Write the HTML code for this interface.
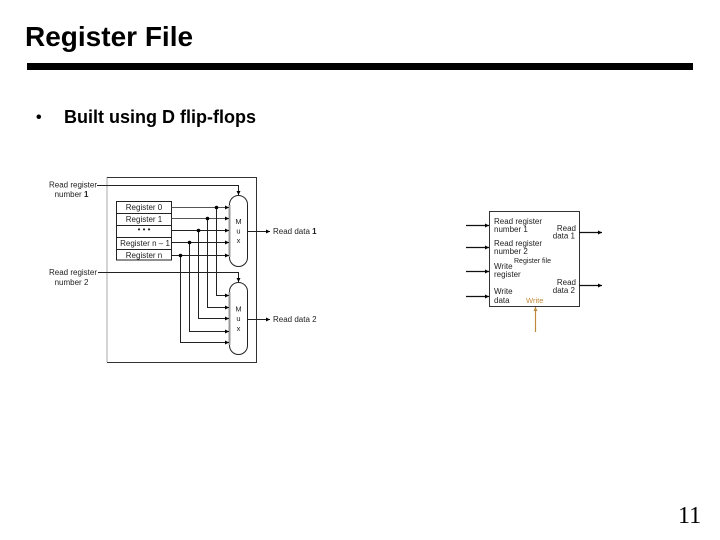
<!DOCTYPE html>
<html>
<head>
<meta charset="utf-8">
<style>
html,body{margin:0;padding:0;background:#fff;}
svg{display:block;}
text{font-family:"Liberation Sans",sans-serif;fill:#222;}
</style>
</head>
<body>
<svg width="720" height="540" viewBox="0 0 720 540" xmlns="http://www.w3.org/2000/svg">
<defs>
<marker id="a" markerUnits="userSpaceOnUse" markerWidth="5" markerHeight="5" refX="4" refY="2" orient="auto"><path d="M0,0 L4,2 L0,4 Z" fill="#000"/></marker>
<marker id="o" markerUnits="userSpaceOnUse" markerWidth="5" markerHeight="5" refX="4" refY="2" orient="auto"><path d="M0,0 L4,2 L0,4 Z" fill="#c08a3c"/></marker>
</defs>
<text x="25" y="46" font-size="28" font-weight="bold" style="fill:#000">Register File</text>
<rect x="27" y="63" width="666" height="7" fill="#000"/>
<text x="36" y="122" font-size="16" font-weight="bold" style="fill:#000">•</text>
<text x="64" y="123" font-size="18" font-weight="bold" style="fill:#000">Built using D flip-flops</text>
<text x="678" y="523" font-size="24" style="font-family:'Liberation Serif',serif;fill:#000">11</text>

<!-- outer box -->
<path d="M107,177 V362" stroke="#aaa" stroke-width="1" fill="none"/>
<path d="M107,177.5 H256.5 V362.5 H107" stroke="#333" stroke-width="1" fill="none"/>

<!-- registers -->
<g fill="#fff" stroke="#222" stroke-width="1">
<rect x="116.5" y="201.5" width="55" height="58.5"/>
<path d="M116.5,213.5 H171.5 M116.5,225.5 H171.5 M116.5,237.5 H171.5 M116.5,249.5 H171.5"/>
</g>
<g font-size="8" text-anchor="middle">
<text x="144" y="210">Register 0</text>
<text x="144" y="222">Register 1</text>
<text x="144" y="232">• • •</text>
<text x="145" y="246">Register n – 1</text>
<text x="144" y="258">Register n</text>
</g>

<!-- mux shapes -->
<rect x="229.5" y="195.5" width="18" height="71" rx="9" ry="9" fill="#fff" stroke="#222"/>
<rect x="229.5" y="282.5" width="18" height="72" rx="9" ry="9" fill="#fff" stroke="#222"/>
<path d="M229.5,205 V257 M229.5,292 V345" stroke="#999" stroke-width="2"/>

<!-- register out to mux1 -->
<g stroke="#222" stroke-width="1" fill="none">
<path d="M171.5,207.5 H229" marker-end="url(#a)" stroke="#555"/>
<path d="M171.5,218.5 H229" marker-end="url(#a)" stroke="#555"/>
<path d="M171.5,230.5 H229" marker-end="url(#a)"/>
<path d="M171.5,242.5 H229" marker-end="url(#a)"/>
<path d="M171.5,255.5 H229" marker-end="url(#a)"/>
<!-- verticals to mux2 -->
<path d="M216.5,207.5 V295.5 H229" marker-end="url(#a)"/>
<path d="M207.5,218.5 V307.5 H229" marker-end="url(#a)"/>
<path d="M198.5,230.5 V318.5 H229" marker-end="url(#a)"/>
<path d="M189.5,242.5 V331.5 H229" marker-end="url(#a)"/>
<path d="M180.5,255.5 V342.5 H229" marker-end="url(#a)"/>
<!-- select lines -->
<path d="M97,185.5 H238.5 V195" marker-end="url(#a)"/>
<path d="M98,272.5 H238.5 V282" marker-end="url(#a)"/>
<!-- outputs -->
<path d="M248,231.5 H270" marker-end="url(#a)"/>
<path d="M248,319.5 H270" marker-end="url(#a)"/>
</g>
<g fill="#000">
<circle cx="216.5" cy="207.5" r="1.8"/>
<circle cx="207.5" cy="218.5" r="1.8"/>
<circle cx="198.5" cy="230.5" r="1.8"/>
<circle cx="189.5" cy="242.5" r="1.8"/>
<circle cx="180.5" cy="255.5" r="1.8"/>
</g>

<!-- mux labels -->
<g font-size="7.5" text-anchor="middle">
<text x="238.5" y="224">M</text>
<text x="238.5" y="233.5">u</text>
<text x="238.5" y="243">x</text>
<text x="238.5" y="311.5">M</text>
<text x="238.5" y="321">u</text>
<text x="238.5" y="331">x</text>
</g>

<!-- side labels -->
<g font-size="8" text-anchor="middle">
<text x="73" y="187.5">Read register</text>
<text x="71.5" y="197">number <tspan font-weight="bold">1</tspan></text>
<text x="73" y="275">Read register</text>
<text x="71.5" y="285">number 2</text>
</g>
<text x="273" y="234" font-size="8">Read data <tspan font-weight="bold">1</tspan></text>
<text x="273" y="322" font-size="8">Read data 2</text>

<!-- right block -->
<rect x="489.5" y="211.5" width="90" height="95" fill="#fff" stroke="#333" stroke-width="1"/>
<path d="M489,306.5 H580 M579.5,211 V307" stroke="#333" stroke-width="1"/>
<g stroke="#111" stroke-width="1.2" fill="none">
<path d="M466,225.5 H489" marker-end="url(#a)"/>
<path d="M466,247.5 H489" marker-end="url(#a)"/>
<path d="M466,271.5 H489" marker-end="url(#a)"/>
<path d="M466,296.5 H489" marker-end="url(#a)"/>
<path d="M579,232.5 H602" marker-end="url(#a)"/>
<path d="M579,285.5 H602" marker-end="url(#a)"/>
</g>
<path d="M535.5,332 V307" stroke="#c08a3c" stroke-width="1.2" fill="none" marker-end="url(#o)"/>
<g font-size="8">
<text x="494" y="224">Read register</text>
<text x="494" y="232">number 1</text>
<text x="494" y="246">Read register</text>
<text x="494" y="254">number 2</text>
<text x="514" y="263" font-size="7">Register file</text>
<text x="494" y="269">Write</text>
<text x="494" y="277">register</text>
<text x="494" y="294">Write</text>
<text x="494" y="303">data</text>
</g>
<g font-size="8" text-anchor="end">
<text x="576" y="231">Read</text>
<text x="575" y="238.5">data 1</text>
<text x="576" y="285">Read</text>
<text x="575" y="293">data 2</text>
</g>
<text x="526" y="303" font-size="7.5" style="fill:#c08a3c">Write</text>
</svg>
</body>
</html>
